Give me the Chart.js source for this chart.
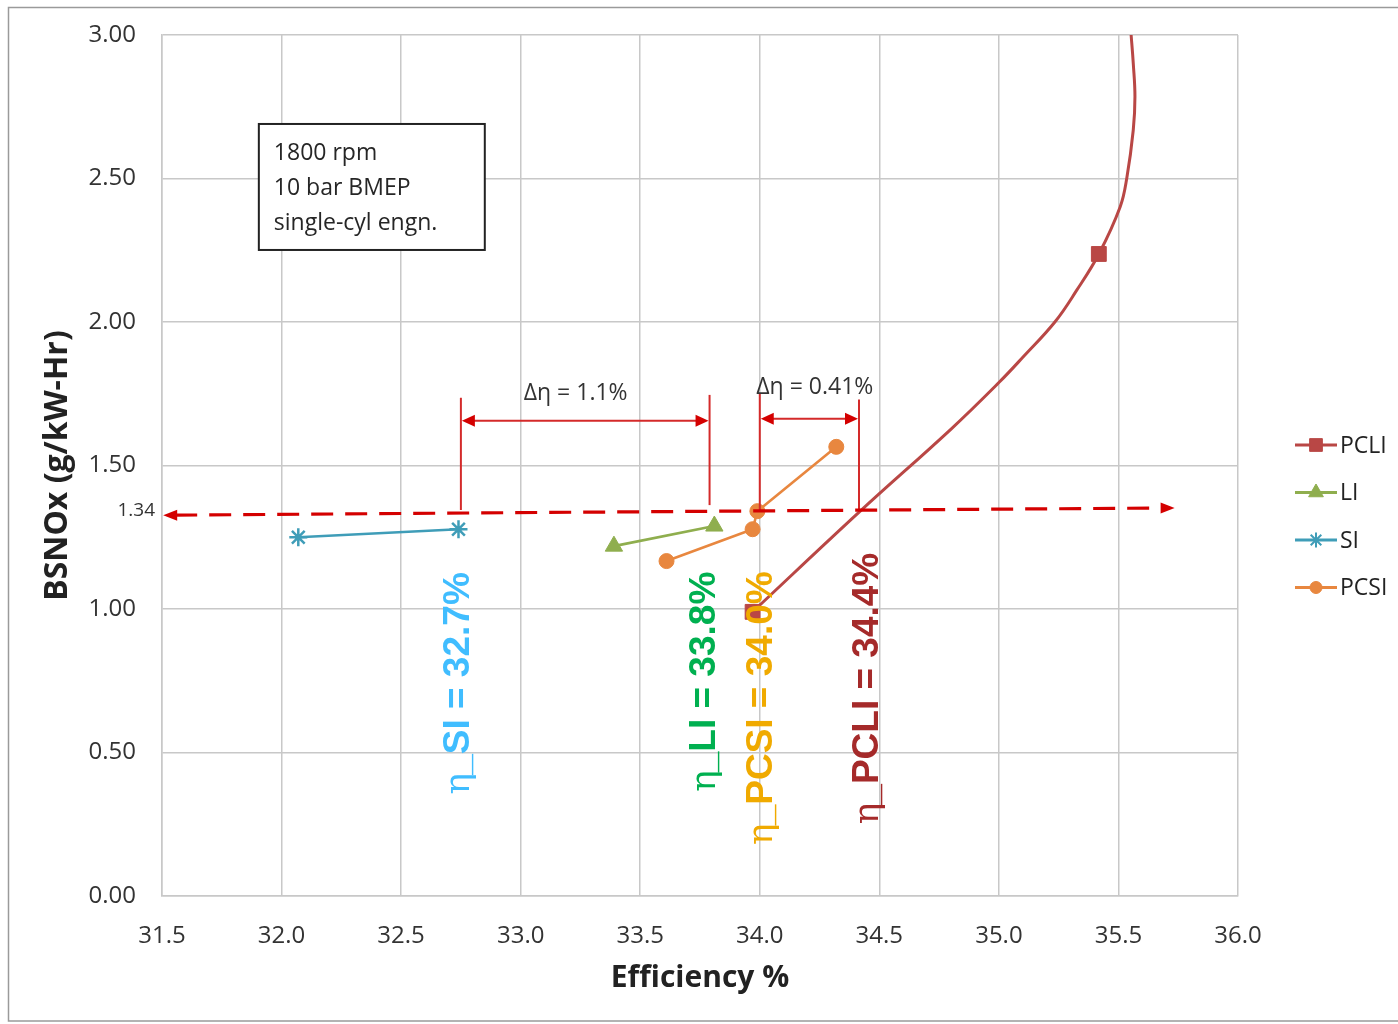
<!DOCTYPE html>
<html>
<head>
<meta charset="utf-8">
<title>BSNOx vs Efficiency</title>
<script src="https://cdn.jsdelivr.net/npm/chart.js@4.4.1/dist/chart.umd.min.js"></script>
<style>
  html, body { margin:0; padding:0; background:#fff; }
  #wrap { position:relative; width:1398px; height:1024px; }
</style>
</head>
<body>
<div id="wrap"><canvas id="chart" width="1398" height="1024"></canvas></div>
<script>
// ---- values ----
const X_TICKS = [31.5, 32.0, 32.5, 33.0, 33.5, 34.0, 34.5, 35.0, 35.5, 36.0];
const Y_TICKS = [0, 0.5, 1.0, 1.5, 2.0, 2.5, 3.0];

const SI_X   = [32.07, 32.74];
const SI_Y   = [1.250, 1.278];
const LI_X   = [33.39, 33.81];
const LI_Y   = [1.219, 1.289];
const PCSI_X = [33.61, 33.97, 33.99, 34.32];
const PCSI_Y = [1.167, 1.278, 1.341, 1.565];
// PCLI is a smoothed curve, only two of its points carry a marker
const PCLI_X = [33.97, 34.42, 34.80, 35.00, 35.10, 35.235, 35.325, 35.418, 35.507, 35.535, 35.562, 35.569, 35.562, 35.553];
const PCLI_Y = [0.99, 1.341, 1.627, 1.789, 1.877, 2.001, 2.110, 2.237, 2.401, 2.502, 2.669, 2.785, 2.901, 3.00];
const PCLI_MARKS = [0, 7];

// reference NOx level (dashed arrow)
const REF_LABEL = "1.34";
const REF_VALUE = 1.34;
const REF_X = [31.505, 35.735];
const REF_Y = [1.327, 1.352];

// vertical efficiency markers and the two delta arrows
const MARK_X   = [32.75, 33.79, 34.0, 34.415];
const MARK_TOP = [1.736, 1.746, 1.750, 1.730];
const MARK_BOT = [1.345, 1.362, 1.341, 1.341];
const DELTA_FROM = [32.75, 34.0];
const DELTA_TO   = [33.79, 34.415];
const DELTA_Y    = [1.656, 1.663];
const DELTA_TEXT = ["\u0394\u03b7 = 1.1%", "\u0394\u03b7 = 0.41%"];
const DELTA_TX   = [33.23, 34.23];
const DELTA_TY   = [1.752, 1.773];

// rotated efficiency labels
const ETA_NAME  = ["SI", "LI", "PCSI", "PCLI"];
const ETA_VALUE = ["32.7%", "33.8%", "34.0%", "34.4%"];
const ETA_X     = [32.783, 33.811, 34.05, 34.496];   // baseline
const ETA_Y     = [0.354, 0.363, 0.178, 0.250];      // text start
const ETA_COLOR = ["#40BDFF", "#00B050", "#F0AA00", "#A52A2A"];

const NOTE_LINES = ["1800 rpm", "10 bar BMEP", "single-cyl engn."];
const NOTE_BOX = { x0: 31.905, x1: 32.850, y0: 2.251, y1: 2.690 };

const SERIES = [
  { label: "PCLI", xs: PCLI_X, ys: PCLI_Y, color: "#B94745", style: "rect",     r: 10.5 },
  { label: "LI",   xs: LI_X,   ys: LI_Y,   color: "#8FAE4E", style: "triangle", r: 10 },
  { label: "SI",   xs: SI_X,   ys: SI_Y,   color: "#3F9DB8", style: "star",     r: 9 },
  { label: "PCSI", xs: PCSI_X, ys: PCSI_Y, color: "#E8873F", style: "circle",   r: 7.5 }
];

const pts = (xs, ys) => xs.map((v, i) => ({ x: v, y: ys[i] }));

const datasets = SERIES.map(s => {
  const isCurve = s.label === "PCLI";
  return {
    label: s.label,
    data: pts(s.xs, s.ys),
    showLine: true,
    borderColor: s.color,
    backgroundColor: s.color,
    borderWidth: isCurve ? 3 : 2.6,
    tension: isCurve ? 0.4 : 0,      // the PCLI line is a smoothed curve
    pointStyle: s.style,
    pointRadius: isCurve ? s.xs.map((_, i) => PCLI_MARKS.includes(i) ? s.r : 0) : s.r,
    pointBorderWidth: s.style === "star" ? 2.5 : 1,
    pointBackgroundColor: s.color,
    pointBorderColor: s.color,
    pointHoverRadius: 0
  };
});

// ---- helpers for the overlay ----
function arrowHead(ctx, x, y, dir, len, half) {
  ctx.beginPath();
  ctx.moveTo(x, y);
  ctx.lineTo(x - dir * len, y - half);
  ctx.lineTo(x - dir * len, y + half);
  ctx.closePath();
  ctx.fill();
}

const overlay = {
  id: "overlay",
  beforeDraw(chart) {
    const ctx = chart.ctx;
    ctx.save();
    ctx.fillStyle = "#fff";
    ctx.fillRect(0, 0, chart.width, chart.height);
    ctx.restore();
  },
  afterDatasetsDraw(chart) {
    const { ctx, scales: { x, y } } = chart;
    const px = v => x.getPixelForValue(v), py = v => y.getPixelForValue(v);
    ctx.save();

    // note box
    const bx = px(NOTE_BOX.x0), by = py(NOTE_BOX.y1);
    const bw = px(NOTE_BOX.x1) - bx, bh = py(NOTE_BOX.y0) - by;
    ctx.fillStyle = "#fff";
    ctx.fillRect(bx, by, bw, bh);
    ctx.strokeStyle = "#222"; ctx.lineWidth = 2;
    ctx.strokeRect(bx, by, bw, bh);
    ctx.fillStyle = "#262626";
    ctx.font = "23px 'Open Sans'";
    ctx.textBaseline = "alphabetic"; ctx.textAlign = "left";
    NOTE_LINES.forEach((t, i) => ctx.fillText(t, bx + 15, by + 36 + i * 35));

    // vertical markers
    ctx.strokeStyle = "#D42A2A"; ctx.lineWidth = 2;
    MARK_X.forEach((v, i) => {
      ctx.beginPath();
      ctx.moveTo(px(v), py(MARK_TOP[i]));
      ctx.lineTo(px(v), py(MARK_BOT[i]));
      ctx.stroke();
    });

    // delta arrows
    ctx.fillStyle = "#D40000";
    DELTA_FROM.forEach((v, i) => {
      const x0 = px(v), x1 = px(DELTA_TO[i]), yy = py(DELTA_Y[i]);
      ctx.beginPath(); ctx.moveTo(x0 + 8, yy); ctx.lineTo(x1 - 8, yy); ctx.stroke();
      arrowHead(ctx, x0 + 1, yy, -1, 13, 6);
      arrowHead(ctx, x1 - 1, yy, 1, 13, 6);
    });
    ctx.fillStyle = "#333";
    ctx.font = "23px 'Open Sans'";
    ctx.textAlign = "center"; ctx.textBaseline = "middle";
    DELTA_TEXT.forEach((t, i) => ctx.fillText(t, px(DELTA_TX[i]), py(DELTA_TY[i])));

    // dashed reference line with arrow heads
    const lx = px(REF_X[0]), ly = py(REF_Y[0]), rx = px(REF_X[1]), ry = py(REF_Y[1]);
    ctx.strokeStyle = "#D40000"; ctx.fillStyle = "#D40000"; ctx.lineWidth = 3.2;
    ctx.setLineDash([22, 12]);
    ctx.beginPath(); ctx.moveTo(lx + 12, ly); ctx.lineTo(rx - 12, ry); ctx.stroke();
    ctx.setLineDash([]);
    arrowHead(ctx, lx, ly, -1, 14, 5.5);
    arrowHead(ctx, rx, ry, 1, 14, 5.5);

    // reference tick label
    ctx.fillStyle = "#333";
    ctx.font = "19px 'Open Sans'";
    ctx.textAlign = "right"; ctx.textBaseline = "middle";
    ctx.fillText(REF_LABEL, x.left - 7, py(REF_VALUE) - 1);

    // rotated efficiency labels
    ETA_NAME.forEach((n, i) => {
      ctx.save();
      ctx.translate(px(ETA_X[i]), py(ETA_Y[i]));
      ctx.rotate(-Math.PI / 2);
      ctx.fillStyle = ETA_COLOR[i];
      ctx.textAlign = "left"; ctx.textBaseline = "alphabetic";
      ctx.font = "36px 'DejaVu Serif'";
      ctx.fillText("\u03b7", 0, 0);
      const w = ctx.measureText("\u03b7").width - 2;
      ctx.font = "bold 37px 'Liberation Sans'";
      ctx.fillText("_" + n + " = " + ETA_VALUE[i], w, 0);
      ctx.restore();
    });

    // legend on the right
    ctx.font = "23px 'Open Sans'";
    ctx.textAlign = "left"; ctx.textBaseline = "middle";
    SERIES.forEach((s, i) => {
      const yy = 445 + i * 47.5;
      ctx.strokeStyle = s.color; ctx.fillStyle = s.color; ctx.lineWidth = 3;
      ctx.beginPath(); ctx.moveTo(1295, yy); ctx.lineTo(1337, yy); ctx.stroke();
      ctx.lineWidth = s.style === "star" ? 2 : 1;
      Chart.helpers.drawPoint(ctx, { pointStyle: s.style, radius: s.r - 1.5, borderWidth: ctx.lineWidth, rotation: 0 }, 1316, yy);
      ctx.fillStyle = "#222";
      ctx.fillText(s.label, 1340, yy + 1);
    });

    // outer frame
    ctx.strokeStyle = "#9a9a9a"; ctx.lineWidth = 1.5;
    ctx.beginPath();
    ctx.moveTo(1398, 7.5); ctx.lineTo(8.5, 7.5); ctx.lineTo(8.5, 1021); ctx.lineTo(1398, 1021);
    ctx.stroke();

    ctx.restore();
  }
};

const grid = { color: "#C8C8C8", lineWidth: 1.5, drawTicks: false };
const border = { color: "#C8C8C8", width: 1.5 };

new Chart(document.getElementById("chart"), {
  type: "scatter",
  data: { datasets },
  options: {
    responsive: false,
    animation: false,
    events: [],
    layout: { padding: { left: 0, top: 35, right: 160, bottom: 0 } },
    plugins: { legend: { display: false }, tooltip: { enabled: false } },
    scales: {
      x: {
        type: "linear", min: 31.5, max: 36.0,
        afterBuildTicks: s => { s.ticks = X_TICKS.map(v => ({ value: v })); },
        afterFit: s => { s.height = 128; },
        grid, border,
        ticks: { padding: 26, color: "#333", font: { family: "Open Sans", size: 24 }, callback: v => Number(v).toFixed(1) },
        title: { display: true, text: "Efficiency %", color: "#222", padding: { top: 0, bottom: 28 },
                 font: { family: "Open Sans", size: 30, weight: "bold" } }
      },
      y: {
        type: "linear", min: 0, max: 3.0,
        afterBuildTicks: s => { s.ticks = Y_TICKS.map(v => ({ value: v })); },
        afterFit: s => { s.width = 162; s.paddingTop = 0; },
        grid, border,
        ticks: { padding: 26, color: "#333", font: { family: "Open Sans", size: 24 }, callback: v => Number(v).toFixed(2) },
        title: { display: true, text: "BSNOx (g/kW-Hr)", color: "#222", padding: { top: 39, bottom: 0 },
                 font: { family: "Open Sans", size: 32, weight: "bold" } }
      }
    }
  },
  plugins: [overlay]
});
</script>
</body>
</html>
